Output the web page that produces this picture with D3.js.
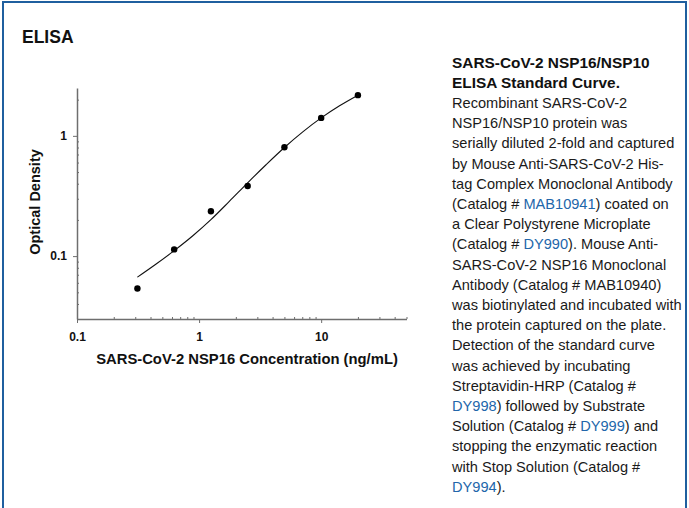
<!DOCTYPE html>
<html>
<head>
<meta charset="utf-8">
<script src="https://cdn.jsdelivr.net/npm/d3@7"></script>
<style>
  html, body { margin: 0; padding: 0; background: #fff; }
  svg { display: block; font-family: Arial, "Liberation Sans", sans-serif; }
</style>
</head>
<body>
<svg id="chart" width="689" height="508"></svg>
<script>
// ---- data ----
const concentrations = [0.3125, 0.625, 1.25, 2.5, 5, 10, 20];
const opticalDensity = [0.0538, 0.1137, 0.236, 0.383, 0.805, 1.41, 2.18];
// fitted standard curve
const curveX = [0.3125, 0.442, 0.625, 0.884, 1.25, 1.768, 2.5, 3.536, 5, 7.07, 10, 14.14, 20];
const curveY = [0.0668, 0.0855, 0.111, 0.147, 0.201, 0.285, 0.407, 0.575, 0.80, 1.079, 1.41, 1.778, 2.178];
const xMajorTicks = [0.1, 1, 10];
const xMinorTicks = [0.2,0.3,0.4,0.5,0.6,0.7,0.8,0.9,2,3,4,5,6,7,8,9,20,30,40,50];
const yMajorTicks = [0.1, 1];
const yMinorTicks = [0.03,0.04,0.05,0.06,0.07,0.08,0.09,0.2,0.3,0.4,0.5,0.6,0.7,0.8,0.9,2];
const xDomain = [0.1, 50];
const yDomain = [0.03, 2.5];
const panelTitle = "ELISA";
const xTitle = "SARS-CoV-2 NSP16 Concentration (ng/mL)";
const yTitle = "Optical Density";
const captionHeading = ["SARS-CoV-2 NSP16/NSP10", "ELISA Standard Curve."];
const captionLines = [
  "Recombinant SARS-CoV-2",
  "NSP16/NSP10 protein was",
  "serially diluted 2-fold and captured",
  "by Mouse Anti-SARS-CoV-2 His-",
  "tag Complex Monoclonal Antibody",
  "(Catalog # {MAB10941}) coated on",
  "a Clear Polystyrene Microplate",
  "(Catalog # {DY990}). Mouse Anti-",
  "SARS-CoV-2 NSP16 Monoclonal",
  "Antibody (Catalog # MAB10940)",
  "was biotinylated and incubated with",
  "the protein captured on the plate.",
  "Detection of the standard curve",
  "was achieved by incubating",
  "Streptavidin-HRP (Catalog #",
  "{DY998}) followed by Substrate",
  "Solution (Catalog # {DY999}) and",
  "stopping the enzymatic reaction",
  "with Stop Solution (Catalog #",
  "{DY994})."
];

// ---- drawing ----
const svg = d3.select("#chart");
const blue = "#1f5f9f";
const linkBlue = "#2266aa";
const axisColor = "#6e6e6e";

// frame
svg.append("rect").attr("x", 3).attr("y", 2).attr("width", 683).attr("height", 530)
  .attr("fill", "none").attr("stroke", blue).attr("stroke-width", 2);

svg.append("text").attr("x", 22).attr("y", 43)
  .attr("font-size", 17.5).attr("font-weight", "bold").attr("fill", "#111")
  .text(panelTitle);

const x = d3.scaleLog().domain(xDomain).range([77, 406.5]);
const y = d3.scaleLog().domain(yDomain).range([319, 88]);

const g = svg.append("g");

function styleAxis(sel) {
  sel.select(".domain").attr("stroke", axisColor).attr("stroke-width", 1.5);
  sel.selectAll(".tick line").attr("stroke", axisColor).attr("stroke-width", 1);
  sel.selectAll(".tick text").attr("font-size", 12).attr("font-weight", "bold")
     .attr("fill", "#111").attr("font-family", "Arial, 'Liberation Sans', sans-serif");
}

// x axis
const xMaj = g.append("g").attr("transform", "translate(0,319)")
  .call(d3.axisBottom(x).tickValues(xMajorTicks).tickSize(4).tickPadding(9)
        .tickFormat(d3.format("~g")).tickSizeOuter(0));
styleAxis(xMaj);
const xMin = g.append("g").attr("transform", "translate(0,319)")
  .call(d3.axisBottom(x).tickValues(xMinorTicks).tickSize(-2).tickFormat("").tickSizeOuter(0));
styleAxis(xMin);
xMin.select(".domain").remove();

// y axis
const yMaj = g.append("g").attr("transform", "translate(77,0)")
  .call(d3.axisLeft(y).tickValues(yMajorTicks).tickSize(4).tickPadding(6)
        .tickFormat(d3.format("~g")).tickSizeOuter(0));
styleAxis(yMaj);
const yMin = g.append("g").attr("transform", "translate(77,0)")
  .call(d3.axisLeft(y).tickValues(yMinorTicks).tickSize(-2).tickFormat("").tickSizeOuter(0));
styleAxis(yMin);
yMin.select(".domain").remove();

// axis titles
svg.append("text").attr("x", 247).attr("y", 363.5).attr("text-anchor", "middle")
  .attr("font-size", 14.8).attr("font-weight", "bold").attr("fill", "#111").text(xTitle);
svg.append("text").attr("transform", "translate(40,202) rotate(-90)").attr("text-anchor", "middle")
  .attr("font-size", 14.5).attr("font-weight", "bold").attr("fill", "#111").text(yTitle);

// curve
const curveData = curveX.map((c, i) => [c, curveY[i]]);
g.append("path").datum(curveData)
  .attr("fill", "none").attr("stroke", "#111").attr("stroke-width", 1.1)
  .attr("d", d3.line().x(d => x(d[0])).y(d => y(d[1])).curve(d3.curveMonotoneX));

// points
g.selectAll("circle.pt").data(concentrations.map((c, i) => [c, opticalDensity[i]]))
  .enter().append("circle").attr("class", "pt")
  .attr("cx", d => x(d[0])).attr("cy", d => y(d[1])).attr("r", 3.2).attr("fill", "#000");

// caption
const capX = 452, capY0 = 67.5, lh = 20.2;
const cap = svg.append("g").attr("font-size", 14.6).attr("fill", "#1a1a1a");
captionHeading.forEach((t, i) => {
  cap.append("text").attr("x", capX).attr("y", capY0 + i * lh)
    .attr("font-weight", "bold").attr("font-size", 15.4).attr("fill", "#111").text(t);
});
captionLines.forEach((line, i) => {
  const t = cap.append("text").attr("x", capX).attr("y", capY0 + (i + 2) * lh);
  line.split(/(\{[^}]*\})/).filter(s => s.length).forEach(seg => {
    if (seg.startsWith("{")) {
      t.append("tspan").attr("fill", linkBlue).text(seg.slice(1, -1));
    } else {
      t.append("tspan").text(seg);
    }
  });
});
</script>
</body>
</html>
